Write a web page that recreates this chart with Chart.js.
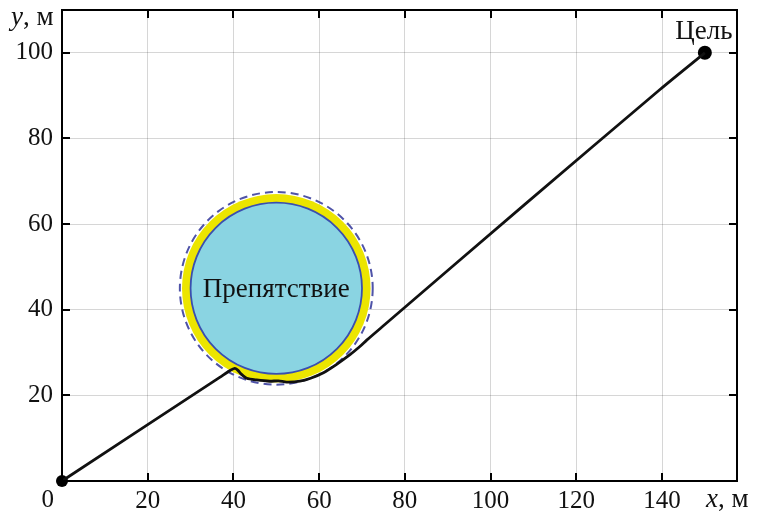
<!DOCTYPE html>
<html><head><meta charset="utf-8">
<script src="https://cdn.jsdelivr.net/npm/chart.js@4"></script>
<style>html,body{margin:0;padding:0;background:#fff;}canvas{display:block;}</style>
</head><body>
<canvas id="c" width="757" height="516"></canvas>
<script>
// ---- data ----
const xTicks = [0, 20, 40, 60, 80, 100, 120, 140];
const yTicks = [20, 40, 60, 80, 100];
const pathX = [0, 36.8, 39.2, 40.3, 41.0, 41.9, 43.1, 45.4, 48.5, 50.5, 52.4, 55.5, 58.0, 61.0, 64.0, 67.2, 69.5, 71.1, 75.4, 108.0, 139.6, 150];
const pathY = [0, 24.2, 25.8, 26.3, 25.9, 24.9, 24.0, 23.6, 23.3, 23.4, 23.1, 23.3, 24.0, 25.3, 27.2, 29.5, 31.4, 32.9, 36.6, 64.6, 91.5, 100];
const startPoint = [0, 0];
const goalPoint = [150, 100];
const obstacleCenter = [50, 45];
const obstacleRadius = 20;
const safetyRadius = 22;
const dashedRadius = 22.5;
const obstacleLabel = 'Препятствие';
const goalLabel = 'Цель';
const xTitle = ['x', ', м'];
const yTitle = ['y', ', м'];

const SERIF = '"Liberation Serif", "DejaVu Serif", serif';
const INK = '#111';

const decor = {
  id: 'decor',
  beforeDatasetsDraw(chart) {
    const {ctx, scales: {x, y}} = chart;
    const cx = x.getPixelForValue(obstacleCenter[0]);
    const cy = y.getPixelForValue(obstacleCenter[1]);
    const rx = r => x.getPixelForValue(obstacleCenter[0] + r) - cx;
    const ry = r => cy - y.getPixelForValue(obstacleCenter[1] + r);
    ctx.save();
    ctx.beginPath();
    ctx.ellipse(cx, cy, rx(safetyRadius), ry(safetyRadius), 0, 0, Math.PI * 2);
    ctx.fillStyle = '#ece500';
    ctx.fill();
    ctx.beginPath();
    ctx.ellipse(cx, cy, rx(dashedRadius), ry(dashedRadius), 0, 0, Math.PI * 2);
    ctx.setLineDash([8, 5]);
    ctx.lineWidth = 2;
    ctx.strokeStyle = '#4f53a8';
    ctx.stroke();
    ctx.setLineDash([]);
    ctx.beginPath();
    ctx.ellipse(cx, cy, rx(obstacleRadius), ry(obstacleRadius), 0, 0, Math.PI * 2);
    ctx.fillStyle = '#8ad4e2';
    ctx.fill();
    ctx.lineWidth = 1.8;
    ctx.strokeStyle = '#3a4fb0';
    ctx.stroke();
    ctx.fillStyle = INK;
    ctx.font = '27px ' + SERIF;
    ctx.textAlign = 'center';
    ctx.textBaseline = 'alphabetic';
    ctx.fillText(obstacleLabel, cx, cy + 9);
    ctx.restore();
  },
  afterDraw(chart) {
    const {ctx, chartArea: a, scales: {x, y}} = chart;
    ctx.save();
    ctx.strokeStyle = '#000';
    ctx.lineWidth = 2;
    ctx.strokeRect(a.left, a.top, a.right - a.left, a.bottom - a.top);
    const tl = 8;
    ctx.beginPath();
    xTicks.forEach(v => {
      if (v === 0) return;
      const px = Math.round(x.getPixelForValue(v));
      ctx.moveTo(px, a.bottom); ctx.lineTo(px, a.bottom - tl);
      ctx.moveTo(px, a.top); ctx.lineTo(px, a.top + tl);
    });
    yTicks.forEach(v => {
      const py = Math.round(y.getPixelForValue(v));
      ctx.moveTo(a.left, py); ctx.lineTo(a.left + tl, py);
      ctx.moveTo(a.right, py); ctx.lineTo(a.right - tl, py);
    });
    ctx.stroke();
    ctx.fillStyle = INK;
    ctx.font = '27px ' + SERIF;
    ctx.textAlign = 'center';
    ctx.textBaseline = 'alphabetic';
    ctx.fillText(goalLabel, x.getPixelForValue(goalPoint[0]) - 1, y.getPixelForValue(goalPoint[1]) - 14);
    ctx.font = '25px ' + SERIF;
    ctx.textAlign = 'right';
    ctx.fillText('0', a.left - 8, a.bottom + 26);
    const title = (parts, x0, base) => {
      ctx.textAlign = 'left';
      ctx.font = 'italic 27px ' + SERIF;
      ctx.fillText(parts[0], x0, base);
      const w = ctx.measureText(parts[0]).width;
      ctx.font = '27px ' + SERIF;
      ctx.fillText(parts[1], x0 + w, base);
    };
    title(yTitle, 11, 25);
    title(xTitle, 706, 507);
    ctx.restore();
  }
};

new Chart(document.getElementById('c'), {
  type: 'scatter',
  data: {
    datasets: [
      {
        data: pathX.map((v, i) => ({x: v, y: pathY[i]})),
        showLine: true,
        borderColor: '#111',
        borderWidth: 2.8,
        pointRadius: 0,
        tension: 0.25,
        clip: false
      },
      {
        data: [{x: startPoint[0], y: startPoint[1]}, {x: goalPoint[0], y: goalPoint[1]}],
        pointRadius: [6, 7],
        backgroundColor: '#000',
        borderColor: '#000',
        borderWidth: 0,
        clip: false
      }
    ]
  },
  options: {
    responsive: false,
    animation: false,
    devicePixelRatio: 1,
    layout: {padding: {left: 0, right: 20, top: 10, bottom: 0}},
    plugins: {legend: {display: false}, tooltip: {enabled: false}},
    scales: {
      x: {
        type: 'linear', min: 0, max: 157.5,
        afterBuildTicks: s => { s.ticks = xTicks.map(v => ({value: v})); },
        afterFit: s => { s.height = 35; s.paddingLeft = 0; s.paddingRight = 0; },
        grid: {color: 'rgba(0,0,0,0.16)', lineWidth: 1, drawTicks: false},
        border: {display: false},
        ticks: {
          padding: 5, color: INK,
          font: {family: SERIF, size: 25},
          callback: v => (v === 0 ? '' : String(v))
        }
      },
      y: {
        type: 'linear', min: 0, max: 110,
        afterBuildTicks: s => { s.ticks = yTicks.map(v => ({value: v})); },
        afterFit: s => { s.width = 62; s.paddingTop = 0; s.paddingBottom = 0; },
        grid: {color: 'rgba(0,0,0,0.16)', lineWidth: 1, drawTicks: false},
        border: {display: false},
        ticks: {
          padding: 9, color: INK,
          font: {family: SERIF, size: 25},
          callback: v => String(v)
        }
      }
    }
  },
  plugins: [decor]
});
</script>
</body></html>
